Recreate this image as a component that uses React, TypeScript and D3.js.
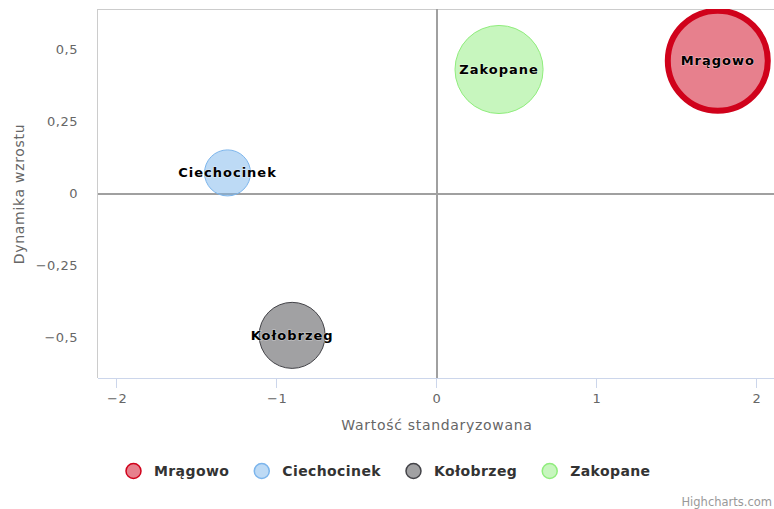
import React from "react";
import * as d3 from "d3";

const names = ["Mrągowo", "Ciechocinek", "Kołobrzeg", "Zakopane"];
const xValues = [1.756, -1.31, -0.906, 0.388];
const yValues = [0.462, 0.073, -0.491, 0.432];
const zValues = [2.5, 0.53, 1.09, 1.94];
const colors = ["#d0021b", "#7cb5ec", "#434348", "#90ed7d"];
const lineWidths = [6, 1, 1, 1];
const xTicks = [-2, -1, 0, 1, 2];
const yTicks = [-0.5, -0.25, 0, 0.25, 0.5];

const W = 774;
const H = 509;
const FONT = "'DejaVu Sans', Verdana, sans-serif";
const LEGEND_SIZE = 14;
const LEGEND_LS = 0.4;

function measure(text: string, font: string, ls: number): number {
  const c = document.createElement("canvas");
  const ctx = c.getContext("2d");
  if (!ctx) return text.length * 8;
  ctx.font = font;
  return ctx.measureText(text).width + ls * text.length;
}

const fmt = (v: number) => {
  const s = String(v).replace(".", ",");
  return v < 0 ? "\u2212" + s.slice(1) : s;
};

export default function App() {
  const left = 98, top = 9, right = 776, bottom = 378;
  const x = d3.scaleLinear().domain([-2.12, 2.12]).range([left, right]);
  const y = d3.scaleLinear().domain([-0.639, 0.642]).range([bottom, top]);
  const r = d3.scaleSqrt().domain([0, 2.5]).range([0, 50]);

  const legendFont = `bold ${LEGEND_SIZE}px ${FONT}`;
  const widths = names.map((n) => measure(n, legendFont, LEGEND_LS));
  const symW = 28.5, gap = 24.5;
  const total = widths.reduce((a, w) => a + symW + w, 0) + gap * (names.length - 1);
  let lx = 388 - total / 2;
  const legendItems = names.map((n, i) => {
    const item = { name: n, x: lx, color: colors[i] };
    lx += symW + widths[i] + gap;
    return item;
  });

  return (
    <div style={{ position: "fixed", left: 0, top: 0, width: W, height: H, background: "#fff" }}>
      <svg width={W} height={H} style={{ display: "block", fontFamily: FONT }}>
        <defs>
          <clipPath id="plotclip">
            <rect x={left} y={top} width={right - left} height={bottom - top} />
          </clipPath>
        </defs>
        {/* plot border */}
        <line x1={left} x2={right} y1={top + 0.5} y2={top + 0.5} stroke="#cccccc" strokeWidth={1} />
        <line x1={left - 0.5} x2={left - 0.5} y1={top} y2={bottom} stroke="#cccccc" strokeWidth={1} />
        {/* x axis */}
        <line x1={left} x2={right} y1={bottom + 0.5} y2={bottom + 0.5} stroke="#ccd6eb" strokeWidth={1} />
        {xTicks.map((t) => (
          <g key={t}>
            <line x1={Math.round(x(t)) - 0.5} x2={Math.round(x(t)) - 0.5} y1={bottom} y2={bottom + 10} stroke="#ccd6eb" />
            <text x={x(t)} y={bottom + 25} textAnchor="middle" fontSize={13} letterSpacing={0.5} fill="#666666">
              {fmt(t)}
            </text>
          </g>
        ))}
        {yTicks.map((t) => (
          <text key={t} x={78} y={y(t) + 4.5} textAnchor="end" fontSize={13} letterSpacing={0.5} fill="#666666">
            {fmt(t)}
          </text>
        ))}
        {/* zero lines */}
        <line x1={left} x2={right} y1={y(0)} y2={y(0)} stroke="#a0a0a0" strokeWidth={2} />
        <line x1={x(0)} x2={x(0)} y1={top} y2={bottom} stroke="#a0a0a0" strokeWidth={2} />
        {/* axis titles */}
        <text x={x(0)} y={430} textAnchor="middle" fontSize={14} letterSpacing={0.7} fill="#666666">
          Wartość standaryzowana
        </text>
        <text transform={`translate(24,${y(0)}) rotate(-90)`} textAnchor="middle" fontSize={14} letterSpacing={0.7} fill="#666666">
          Dynamika wzrostu
        </text>
        {/* bubbles */}
        <g clipPath="url(#plotclip)">
          {names.map((n, i) => (
            <circle
              key={n}
              cx={x(xValues[i])}
              cy={y(yValues[i])}
              r={r(zValues[i])}
              fill={colors[i]}
              fillOpacity={0.5}
              stroke={colors[i]}
              strokeWidth={lineWidths[i]}
            />
          ))}
        </g>
        {names.map((n, i) => (
          <text
            key={n}
            x={x(xValues[i])}
            y={y(yValues[i]) + 4.5}
            textAnchor="middle"
            fontSize={13}
            fontWeight="bold"
            fill="#000"
            stroke="#fff"
            strokeWidth={1.2}
            strokeOpacity={0.45}
            paintOrder="stroke"
            letterSpacing={1}
          >
            {n}
          </text>
        ))}
        {/* legend */}
        {legendItems.map((it) => (
          <g key={it.name}>
            <circle cx={it.x + 8} cy={471} r={7.5} fill={it.color} fillOpacity={0.5} stroke={it.color} strokeWidth={1.5} />
            <text x={it.x + symW} y={476} fontSize={LEGEND_SIZE} letterSpacing={LEGEND_LS} fontWeight="bold" fill="#333333">
              {it.name}
            </text>
          </g>
        ))}
        <text x={772} y={506} textAnchor="end" fontSize={11.5} fill="#999999">
          Highcharts.com
        </text>
      </svg>
    </div>
  );
}
